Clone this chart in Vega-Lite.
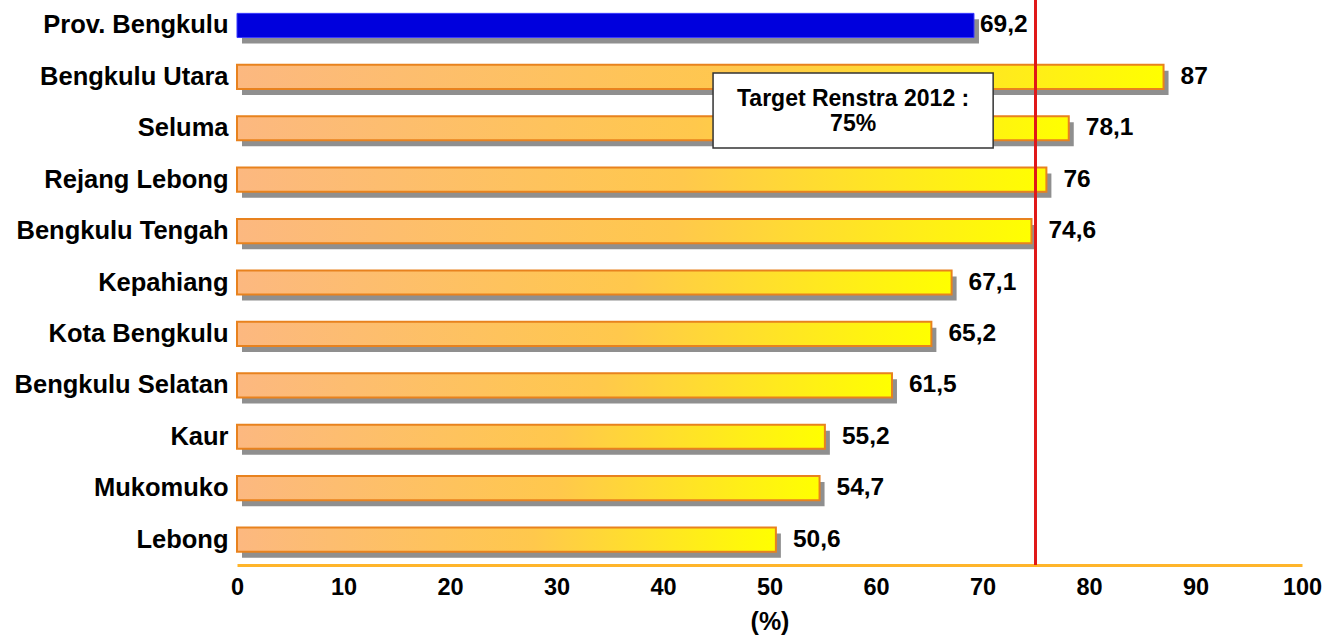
{
  "$schema": "https://vega.github.io/schema/vega-lite/v6.json",
  "autosize": "none",
  "width": 1065,
  "height": 565,
  "padding": {"left": 237, "top": 0, "right": 29, "bottom": 72},
  "background": "white",
  "config": {
    "font": "Liberation Sans",
    "view": {"stroke": null},
    "locale": {"number": {"decimal": ",", "thousands": ".", "grouping": [3], "currency": ["", ""]}}
  },
  "data": {
    "values": [
      {"name": "Prov. Bengkulu", "value": 69.2, "level": "prov"},
      {"name": "Bengkulu Utara", "value": 87, "level": "kab"},
      {"name": "Seluma", "value": 78.1, "level": "kab"},
      {"name": "Rejang Lebong", "value": 76, "level": "kab"},
      {"name": "Bengkulu Tengah", "value": 74.6, "level": "kab"},
      {"name": "Kepahiang", "value": 67.1, "level": "kab"},
      {"name": "Kota Bengkulu", "value": 65.2, "level": "kab"},
      {"name": "Bengkulu Selatan", "value": 61.5, "level": "kab"},
      {"name": "Kaur", "value": 55.2, "level": "kab"},
      {"name": "Mukomuko", "value": 54.7, "level": "kab"},
      {"name": "Lebong", "value": 50.6, "level": "kab"}
    ]
  },
  "encoding": {
    "y": {
      "field": "name", "type": "nominal", "sort": null,
      "scale": {"paddingInner": 0.53, "paddingOuter": 0.26},
      "axis": {"title": null, "domain": false, "ticks": false, "labelPadding": 9,
               "labelFontSize": 25.5, "labelFontWeight": "bold", "labelColor": "#000", "labelLimit": 400}
    }
  },
  "layer": [
    {
      "mark": {"type": "bar", "fill": "#444", "opacity": 0.6, "xOffset": 5, "yOffset": 6, "x2Offset": 5},
      "encoding": {
        "x": {"field": "value", "type": "quantitative",
              "scale": {"domain": [0, 100], "nice": false},
              "axis": {"values": [0,10,20,30,40,50,60,70,80,90,100], "grid": false, "ticks": false, "labelFlush": false,
                       "domainColor": "#FFB52A", "domainWidth": 3, "labelPadding": 10,
                       "labelFontSize": 23.5, "labelFontWeight": "bold", "labelColor": "#000",
                       "title": "(%)", "titleFontSize": 25, "titleFontWeight": "bold", "titleColor": "#000", "titlePadding": 11}},
        "x2": {"datum": 0}
      }
    },
    {
      "transform": [{"filter": "datum.level === 'kab'"}],
      "mark": {"type": "bar", "stroke": "#E8821E", "strokeWidth": 2,
               "fill": {"gradient": "linear", "x1": 0, "y1": 0, "x2": 1, "y2": 0,
                        "stops": [{"offset": 0, "color": "#FCB880"}, {"offset": 0.55, "color": "#FFC84C"}, {"offset": 1, "color": "#FFFF00"}]}},
      "encoding": {"x": {"field": "value", "type": "quantitative"}, "x2": {"datum": 0}}
    },
    {
      "transform": [{"filter": "datum.level === 'prov'"}],
      "mark": {"type": "bar", "fill": "#0000DD", "stroke": "#3A3AFF", "strokeWidth": 1},
      "encoding": {"x": {"field": "value", "type": "quantitative"}, "x2": {"datum": 0}}
    },
    {
      "transform": [{"filter": "datum.level === 'kab'"}],
      "mark": {"type": "text", "align": "left", "baseline": "middle", "dx": 17, "fontSize": 24.5, "fontWeight": "bold", "color": "#000"},
      "encoding": {"x": {"field": "value", "type": "quantitative"}, "text": {"field": "value", "type": "quantitative", "format": ".1~f"}}
    },
    {
      "transform": [{"filter": "datum.level === 'prov'"}],
      "mark": {"type": "text", "align": "left", "baseline": "middle", "dx": 6, "fontSize": 24.5, "fontWeight": "bold", "color": "#000"},
      "encoding": {"x": {"field": "value", "type": "quantitative"}, "text": {"field": "value", "type": "quantitative", "format": ".1~f"}}
    },
    {
      "mark": {"type": "rule", "color": "#E01818", "strokeWidth": 2.5},
      "encoding": {"x": {"datum": 75}, "y": null}
    },
    {
      "transform": [{"filter": "datum.name === 'Bengkulu Utara'"}],
      "mark": {"type": "bar", "fill": "white", "stroke": "#333", "strokeWidth": 1.5, "height": {"band": 3.1}, "yOffset": 33.6},
      "encoding": {"x": {"datum": 44.7}, "x2": {"datum": 71}}
    },
    {
      "transform": [{"filter": "datum.name === 'Bengkulu Utara'"}],
      "mark": {"type": "text", "align": "center", "baseline": "middle", "fontSize": 23, "fontWeight": "bold", "color": "#000", "lineHeight": 25, "yOffset": 22},
      "encoding": {"x": {"datum": 57.85}, "text": {"value": ["Target Renstra 2012 :", "75%"]}}
    }
  ]
}
